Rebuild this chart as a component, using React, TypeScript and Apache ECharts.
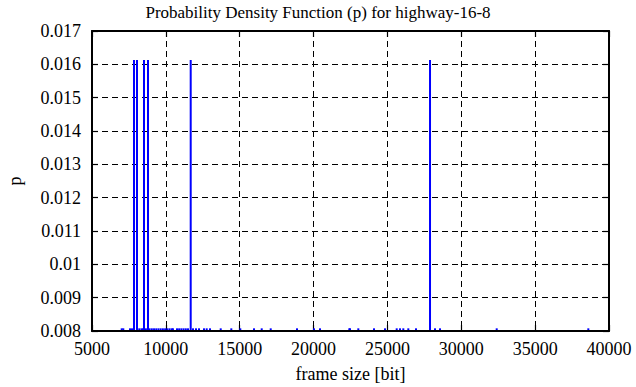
import React, { useEffect, useRef } from "react";
import * as echarts from "echarts";

// Frame sizes [bit] and their probability (impulses)
const spikeSizes = [7843, 8046, 8520, 8791, 11682, 27883];
const spikeProb = [0.01613, 0.01613, 0.01613, 0.01613, 0.01613, 0.01613];

const smallSizes = [
  7011, 7119, 7573, 7708, 8200, 8350, 8450, 8650, 8900, 9050, 9200, 9350, 9500, 9650, 9800,
  9950, 10100, 10250, 10400, 10480, 10755, 10900, 11050, 11200, 11350, 11500, 11838, 12041,
  12244, 12583, 12765, 12989, 13713, 14431, 15040, 15968, 16489, 17098, 18879, 20030, 20436,
  22419, 22467, 23029, 24091, 24836, 25628, 25852, 26075, 26414, 26935, 28221, 28560, 32398,
  38600,
];
const smallProb = smallSizes.map(() => 0.00808);

const xTicks = [5000, 10000, 15000, 20000, 25000, 30000, 35000, 40000];
const yTicks = [0.008, 0.009, 0.01, 0.011, 0.012, 0.013, 0.014, 0.015, 0.016, 0.017];

const FONT = "Liberation Serif";

export default function App() {
  const ref = useRef<HTMLDivElement>(null);
  useEffect(() => {
    document.body.style.margin = "0";
    const chart = echarts.init(ref.current!, undefined, { renderer: "svg" });
    const data: number[][] = [];
    smallSizes.forEach((s, i) => data.push([s, smallProb[i]]));
    spikeSizes.forEach((s, i) => data.push([s, spikeProb[i]]));
    const yMin = yTicks[0];
    const yMax = yTicks[yTicks.length - 1];
    const xMin = xTicks[0];
    const xMax = xTicks[xTicks.length - 1];
    const tickStyle = { show: true, inside: true, length: 6, lineStyle: { color: "#000", width: 1.2 } };
    const axisLine = { show: true, lineStyle: { color: "#000", width: 2 } };
    const split = { show: true, lineStyle: { color: "#000", width: 1, type: [6, 4] as any } };
    chart.setOption({
      animation: false,
      backgroundColor: "#fff",
      textStyle: { fontFamily: FONT },
      title: {
        text: "Probability Density Function (p) for highway-16-8",
        left: "center",
        top: -1,
        textStyle: { fontFamily: FONT, fontSize: 17, fontWeight: "normal", color: "#000" },
      },
      grid: {
        left: 92,
        right: 27,
        top: 31,
        bottom: 56,
        containLabel: false,
        outerBoundsMode: "none",
      } as any,
      xAxis: [
        {
          type: "value",
          min: xMin,
          max: xMax,
          interval: 5000,
          position: "bottom",
          name: "frame size [bit]",
          nameLocation: "middle",
          nameGap: 34,
          nameTextStyle: { fontFamily: FONT, fontSize: 18, color: "#000" },
          axisLine,
          axisTick: tickStyle,
          axisLabel: {
            fontFamily: FONT,
            fontSize: 18,
            color: "#000",
            margin: 9,
            formatter: (v: number) => String(v),
          },
          splitLine: split,
        },
        {
          type: "value",
          min: xMin,
          max: xMax,
          interval: 5000,
          position: "top",
          axisLine,
          axisTick: tickStyle,
          axisLabel: { show: false },
          splitLine: { show: false },
        },
      ],
      yAxis: [
        {
          type: "value",
          min: yMin,
          max: yMax,
          interval: 0.001,
          position: "left",
          name: "p",
          nameLocation: "middle",
          nameRotate: 90,
          nameGap: 68,
          nameTextStyle: { fontFamily: FONT, fontSize: 18, color: "#000" },
          axisLine,
          axisTick: tickStyle,
          axisLabel: {
            fontFamily: FONT,
            fontSize: 18,
            color: "#000",
            margin: 11,
            formatter: (v: number) => String(+v.toFixed(3)),
          },
          splitLine: split,
        },
        {
          type: "value",
          min: yMin,
          max: yMax,
          interval: 0.001,
          position: "right",
          axisLine,
          axisTick: tickStyle,
          axisLabel: { show: false },
          splitLine: { show: false },
        },
      ],
      series: [
        {
          type: "custom",
          clip: true,
          xAxisIndex: 0,
          yAxisIndex: 0,
          data,
          renderItem: (params: any, api: any) => {
            const x = api.value(0);
            const y = api.value(1);
            const top = api.coord([x, y]);
            const bot = api.coord([x, yMin]);
            return {
              type: "line",
              shape: { x1: top[0], y1: top[1], x2: bot[0], y2: bot[1] - 1 },
              style: { stroke: "#0000ff", lineWidth: 2 },
            };
          },
        },
      ],
    });
    return () => chart.dispose();
  }, []);
  return <div ref={ref} style={{ width: 636, height: 387 }} />;
}
